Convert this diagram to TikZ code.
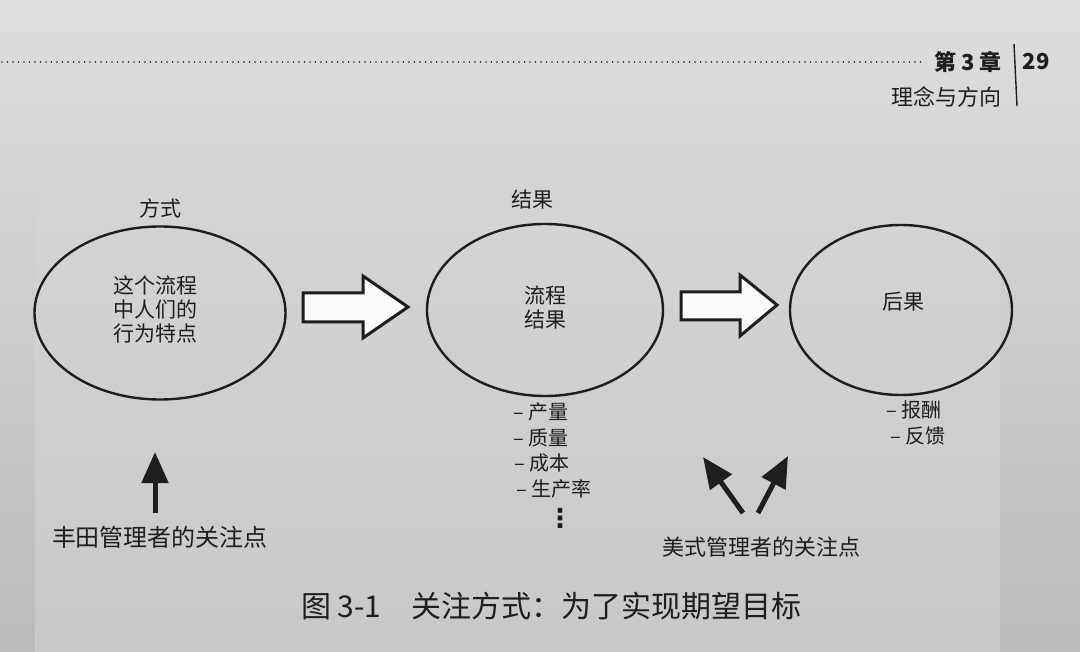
\documentclass[tikz,border=0pt]{standalone}
\usepackage{fontspec}
\newfontfamily\cjk{Noto Sans CJK SC}
\newfontfamily\dejavu{DejaVu Sans}
\usetikzlibrary{arrows.meta,shapes.geometric}
\definecolor{ink}{HTML}{1E1E1E}
\definecolor{papertop}{HTML}{DEDEDC}
\definecolor{paperbot}{HTML}{BDBBB9}
\definecolor{boxfill}{HTML}{D6D6D4}
\begin{document}
\begin{tikzpicture}[x=1pt,y=-1pt,
  every node/.style={text=ink,font=\cjk},
  oval/.style={draw=ink,line width=2.4pt,ellipse},
  lbl/.style={font=\cjk\fontsize{21}{24}\selectfont,align=center,inner sep=0},
  item/.style={font=\cjk\fontsize{20}{24}\selectfont,anchor=west,inner sep=0},
  blockarrow/.style={draw=ink,line width=3pt,line join=miter,fill=white!90!papertop},
  solidarrow/.style={draw=ink,line width=5pt,-{Triangle[length=31pt,width=26pt]}},
  focus/.style={font=\cjk\fontsize{22}{26}\selectfont,inner sep=0}]
\useasboundingbox (0,0) rectangle (1080,652);
\shade[top color=papertop,bottom color=paperbot] (0,0) rectangle (1080,652);
\fill[boxfill,opacity=0.5] (35,195) rectangle (1000,652);
% header
\draw[ink,line width=1.6pt,line cap=round,dash pattern=on 0pt off 5.5pt] (2,62) -- (925,62);
\node[font=\cjk\bfseries\fontsize{22}{24}\selectfont,inner sep=0] (chap) at (968,62) {第 3 章};
\node[font=\cjk\bfseries\fontsize{22}{24}\selectfont,inner sep=0] (page) at (1036,62) {29};
\node[font=\cjk\fontsize{22}{24}\selectfont,inner sep=0] (sect) at (946,97) {理念与方向};
\coordinate (vt) at (1014,44);
\coordinate (vb) at (1017,106);
\draw[ink,line width=1.4pt] (vt) -- (vb);
% ellipses
\node[oval,minimum width=251pt,minimum height=173pt] (e1) at (160,313) {};
\node[oval,minimum width=236pt,minimum height=172pt] (e2) at (545,310) {};
\node[oval,minimum width=222pt,minimum height=170pt] (e3) at (901,310) {};
\node[lbl] (t1) at (160,208) {方式};
\node[lbl] (t2) at (532,200) {结果};
\node[lbl] (c1) at (155,309) {这个流程\\中人们的\\行为特点};
\node[lbl] (c2) at (545,308) {流程\\结果};
\node[lbl] (c3) at (903,302) {后果};
% block arrows
\draw[blockarrow] (303,293) -- (363,293) -- (363,276) -- (408,307) -- (363,338) -- (363,322) -- (303,322) -- cycle;
\draw[blockarrow] (681,292) -- (740,292) -- (740,275) -- (777,305) -- (740,336) -- (740,320) -- (681,320) -- cycle;
% lists
\node[item] (l1) at (513,412) {– 产量};
\node[item] (l2) at (513,438) {– 质量};
\node[item] (l3) at (514,463) {– 成本};
\node[item] (l4) at (516,489) {– 生产率};
\node[font=\dejavu\bfseries\fontsize{26}{28}\selectfont,inner sep=0] (ld) at (560,518) {⋮};
\node[item] (r1) at (886,410) {– 报酬};
\node[item] (r2) at (890,436) {– 反馈};
% focus arrows
\node[focus,font=\cjk\fontsize{24}{26}\selectfont] (toyota) at (160,537) {丰田管理者的关注点};
\node[focus] (us) at (761,547) {美式管理者的关注点};
\coordinate (u0) at (155,513);
\coordinate (u1) at (155,452);
\draw[solidarrow] (u0) -- (u1);
\coordinate (a0) at (743,513);
\coordinate (a1) at (703,457);
\draw[solidarrow] (a0) -- (a1);
\coordinate (b0) at (758,513);
\coordinate (b1) at (788,456);
\draw[solidarrow] (b0) -- (b1);
% caption
\node[font=\cjk\fontsize{30}{32}\selectfont,anchor=west,inner sep=0] (cap) at (301,606) {图 3-1\quad 关注方式：为了实现期望目标};
\end{tikzpicture}
\end{document}
